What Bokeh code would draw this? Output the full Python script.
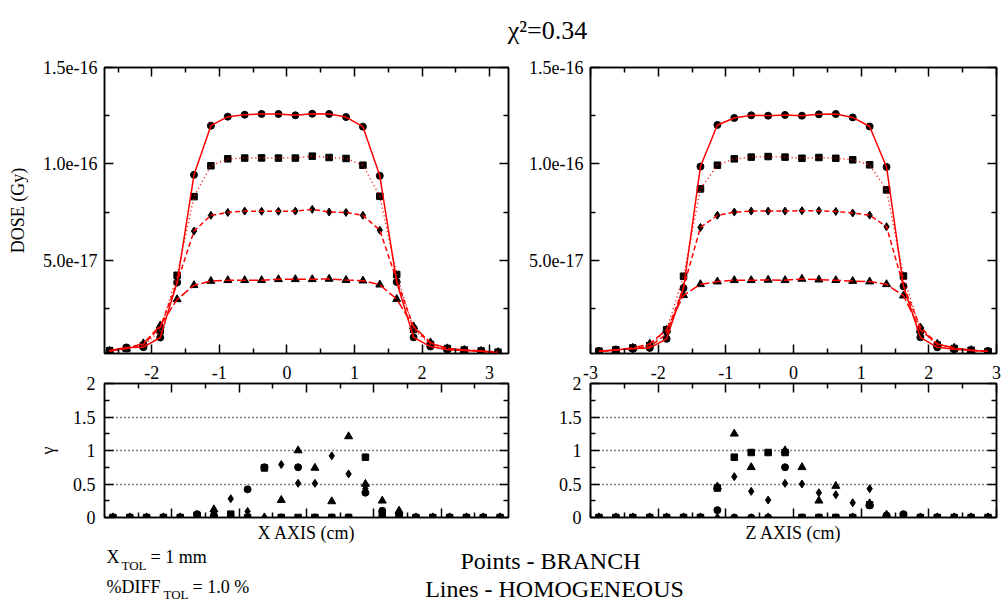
from bokeh.plotting import figure
from bokeh.models import (LinearAxis, FixedTicker, CustomJSTickFormatter, Range1d,
                          Label, ColumnDataSource, Grid)
from bokeh.layouts import column, row
from bokeh.embed import file_html
from bokeh.resources import INLINE

FONT = "Liberation Serif"

TITLE = "χ²=0.34"

# positions (cm)
X_CM = [-2.625, -2.375, -2.125, -1.875, -1.625, -1.375, -1.125, -0.875, -0.625, -0.375, -0.125, 0.125,
        0.375, 0.625, 0.875, 1.125, 1.375, 1.625, 1.875, 2.125, 2.375, 2.625, 2.875, 3.125]
Z_CM = [-2.875, -2.625, -2.375, -2.125, -1.875, -1.625, -1.375, -1.125, -0.875, -0.625, -0.375, -0.125,
        0.125, 0.375, 0.625, 0.875, 1.125, 1.375, 1.625, 1.875, 2.125, 2.375, 2.625, 2.875]

DOSE_UNIT = 1e-17  # values below are in units of 1e-17 Gy

# X profiles
CIRC_X = [0.31, 0.47, 0.49, 0.99, 3.85, 9.43, 11.98, 12.45, 12.55, 12.59, 12.59, 12.52, 12.6, 12.59,
          12.43, 11.93, 9.38, 3.87, 1.0, 0.52, 0.36, 0.31, 0.28, 0.17]
SQ_X = [0.31, 0.42, 0.57, 1.35, 4.22, 8.3, 9.9, 10.26, 10.3, 10.31, 10.3, 10.3, 10.4, 10.33, 10.28,
        9.93, 8.32, 4.26, 1.41, 0.63, 0.42, 0.34, 0.29, 0.23]
DIA_X = [0.29, 0.42, 0.63, 1.53, 3.85, 6.51, 7.33, 7.48, 7.55, 7.54, 7.54, 7.55, 7.64, 7.5, 7.48,
         7.33, 6.56, 3.96, 1.53, 0.68, 0.42, 0.34, 0.29, 0.23]
TRI_X = [0.29, 0.42, 0.68, 1.61, 2.97, 3.7, 3.92, 3.96, 3.96, 3.96, 4.01, 4.01, 4.01, 4.03, 3.97,
         3.94, 3.73, 2.98, 1.56, 0.73, 0.42, 0.34, 0.29, 0.23]

# Z profiles
CIRC_Z = [0.28, 0.35, 0.4, 0.45, 0.92, 3.55, 9.86, 12.02, 12.38, 12.52, 12.5, 12.54, 12.5, 12.57,
          12.59, 12.41, 11.94, 9.84, 3.65, 1.0, 0.48, 0.38, 0.31, 0.28]
SQ_Z = [0.28, 0.35, 0.45, 0.57, 1.39, 4.17, 8.7, 9.93, 10.26, 10.35, 10.38, 10.35, 10.29, 10.33,
        10.29, 10.21, 9.95, 8.65, 4.18, 1.35, 0.6, 0.42, 0.33, 0.27]
DIA_Z = [0.26, 0.33, 0.42, 0.52, 1.18, 3.61, 6.7, 7.33, 7.5, 7.55, 7.55, 7.55, 7.57, 7.57, 7.53,
         7.45, 7.34, 6.74, 3.66, 1.53, 0.65, 0.42, 0.33, 0.26]
TRI_Z = [0.26, 0.33, 0.45, 0.66, 1.39, 3.18, 3.75, 3.89, 3.96, 3.96, 3.98, 3.96, 4.03, 3.99, 3.96,
         3.92, 3.89, 3.75, 3.16, 1.39, 0.66, 0.45, 0.33, 0.26]

# gamma index, X
G_CIRC_X = [0, 0, 0, 0, 0, 0.05, 0.03, 0, 0.42, 0.75, 0, 0.75, 0, 0, 0, 0.37, 0.1, 0.05, 0, 0, 0, 0, 0, 0]
G_SQ_X = [0, 0, 0, 0, 0, 0.03, 0, 0.05, 0, 0.74, 0, 0, 0, 0, 0, 0.9, 0.05, 0, 0, 0, 0, 0, 0, 0]
G_DIA_X = [0, 0, 0, 0, 0, 0, 0.08, 0.28, 0.09, 0, 0.79, 0.51, 0.51, 0.92, 0.65, 0.43, 0.07, 0.08, 0, 0, 0, 0, 0, 0]
G_TRI_X = [0, 0, 0, 0, 0, 0, 0.12, 0, 0, 0, 0.26, 1.0, 0.74, 0.24, 1.21, 0.5, 0.25, 0.1, 0, 0, 0, 0, 0, 0]

# gamma index, Z
G_CIRC_Z = [0, 0, 0, 0, 0, 0, 0, 0.11, 0, 0, 0, 0.75, 0, 0, 0, 0, 0.18, 0.03, 0.05, 0, 0, 0, 0, 0]
G_SQ_Z = [0, 0, 0, 0, 0, 0, 0, 0.44, 0.9, 0.97, 0.97, 0.97, 0, 0, 0, 0, 0.19, 0, 0.03, 0, 0, 0, 0, 0]
G_DIA_Z = [0, 0, 0, 0, 0, 0, 0, 0, 0.61, 0.39, 0.26, 0.51, 0.5, 0.37, 0.34, 0.22, 0.43, 0, 0, 0, 0, 0, 0, 0]
G_TRI_Z = [0, 0, 0, 0, 0, 0, 0, 0.46, 1.25, 0.75, 0, 1.0, 0.75, 0.25, 0.47, 0, 0.21, 0.04, 0, 0, 0, 0, 0, 0]

# ticks
X_TICKS = [-2, -1, 0, 1, 2, 3]
X_MINOR = [-2.5, -1.5, -0.5, 0.5, 1.5, 2.5]
Z_TICKS = [-3, -2, -1, 0, 1, 2, 3]
Z_MINOR = [-2.5, -1.5, -0.5, 0.5, 1.5, 2.5]
GX_TICKS = [-1.75, -0.75, 0.25, 1.25, 2.25]
GX_MINOR = [-2.25, -1.25, -0.25, 0.75, 1.75, 2.75]
DOSE_TICKS = [5e-17, 1e-16, 1.5e-16]
DOSE_MINOR = [2.5e-17, 7.5e-17, 1.25e-16]
GAMMA_TICKS = [0, 0.5, 1, 1.5, 2]
GAMMA_MINOR = [0.25, 0.75, 1.25, 1.75]
GAMMA_GRID = [0.5, 1, 1.5]

X_RANGE = (-2.7, 3.28)
Z_RANGE = (-3.0, 3.0)
GX_RANGE = (-2.75, 3.25)
DOSE_RANGE = (1.6e-18, 1.5e-16)
GAMMA_RANGE = (0, 2)

PLAIN = "return String(tick)"
EXPO = "return tick.toExponential(1)"


def make_axis(major, minor, fmt=None, standoff=7, ticks=True, line=True, **kw):
    ax = LinearAxis(ticker=FixedTicker(ticks=major, minor_ticks=minor), **kw)
    if fmt is None:
        ax.formatter = CustomJSTickFormatter(code="return ''")
        ax.major_label_text_font_size = "1px"
        ax.major_label_standoff = 0
    else:
        ax.formatter = CustomJSTickFormatter(code=fmt)
        ax.major_label_text_font_size = "18px"
        ax.major_label_standoff = standoff
    ax.major_label_text_font = FONT
    ax.major_label_text_color = "black"
    ax.axis_line_color = "black" if line else None
    ax.axis_line_width = 1.5
    ax.major_tick_out = 0
    ax.minor_tick_out = 0
    if ticks:
        ax.major_tick_in = 9
        ax.minor_tick_in = 5
        ax.major_tick_line_width = 1.5
        ax.minor_tick_line_width = 1.5
        ax.major_tick_line_color = "black"
        ax.minor_tick_line_color = "black"
    else:
        ax.major_tick_in = 0
        ax.minor_tick_in = 0
        ax.major_tick_line_color = None
        ax.minor_tick_line_color = None
    ax.axis_label_text_font = FONT
    ax.axis_label_text_font_size = "18px"
    ax.axis_label_text_font_style = "normal"
    ax.axis_label_text_color = "black"
    return ax


def dose_fig(width, left, right, xr, xmaj, xmin, xs, circ, sq, dia, tri, ylabel=None):
    p = figure(width=width, height=300, x_range=Range1d(*xr), y_range=Range1d(*DOSE_RANGE),
               x_axis_type=None, y_axis_type=None, toolbar_location=None, output_backend="svg",
               min_border_left=left, min_border_right=right, min_border_top=12, min_border_bottom=2)
    p.outline_line_color = "black"
    p.outline_line_width = 1.5
    p.background_fill_color = "white"
    p.border_fill_color = "white"
    p.add_layout(make_axis(xmaj, xmin), "below")
    p.add_layout(make_axis(xmaj, xmin), "above")
    yl = make_axis(DOSE_TICKS, DOSE_MINOR, fmt=EXPO, standoff=7)
    if ylabel:
        yl.axis_label = ylabel
        yl.axis_label_standoff = 12
    p.add_layout(yl, "left")
    p.add_layout(make_axis(DOSE_TICKS, DOSE_MINOR), "right")

    src = ColumnDataSource(dict(
        x=xs,
        c=[v * DOSE_UNIT for v in circ], s=[v * DOSE_UNIT for v in sq],
        d=[v * DOSE_UNIT for v in dia], t=[v * DOSE_UNIT for v in tri]))
    p.scatter("x", "c", source=src, marker="circle", size=7, color="black")
    p.scatter("x", "s", source=src, marker="square", size=6.5, color="black")
    p.scatter("x", "d", source=src, marker="diamond", size=8, color="black")
    p.scatter("x", "t", source=src, marker="triangle", size=8, color="black")
    p.line("x", "c", source=src, line_color="red", line_width=1.5)
    p.line("x", "s", source=src, line_color="red", line_width=1.5, line_dash="1 3")
    p.line("x", "d", source=src, line_color="red", line_width=1.5, line_dash="5 3")
    p.line("x", "t", source=src, line_color="red", line_width=1.5, line_dash="9 3")
    return p


def gamma_fig(width, left, right, xr, gmaj, gmin, label_range, lmaj, xs, gc, gs, gd, gt,
              xlabel, ylabel=None):
    p = figure(width=width, height=192, x_range=Range1d(*xr), y_range=Range1d(*GAMMA_RANGE),
               x_axis_type=None, y_axis_type=None, toolbar_location=None, output_backend="svg",
               min_border_left=left, min_border_right=right, min_border_top=28, min_border_bottom=30)
    p.outline_line_color = "black"
    p.outline_line_width = 1.5
    p.extra_x_ranges = {"dose": Range1d(*label_range)}
    p.add_layout(make_axis(gmaj, gmin), "above")
    lab = make_axis(lmaj, [], fmt=PLAIN, standoff=5, ticks=False, line=False, x_range_name="dose")
    p.add_layout(lab, "above")
    bx = make_axis(gmaj, gmin)
    bx.axis_label = xlabel
    bx.axis_label_standoff = 5
    p.add_layout(bx, "below")
    yl = make_axis(GAMMA_TICKS, GAMMA_MINOR, fmt=PLAIN, standoff=9)
    if ylabel:
        yl.axis_label = ylabel
        yl.axis_label_standoff = 12
    p.add_layout(yl, "left")
    p.add_layout(make_axis(GAMMA_TICKS, GAMMA_MINOR), "right")
    p.add_layout(Grid(dimension=1, ticker=FixedTicker(ticks=GAMMA_GRID), grid_line_color="black",
                      grid_line_dash="1 3", grid_line_width=1.3))
    src = ColumnDataSource(dict(x=xs, c=gc, s=gs, d=gd, t=gt))
    p.scatter("x", "c", source=src, marker="circle", size=7, color="black")
    p.scatter("x", "s", source=src, marker="square", size=6.5, color="black")
    p.scatter("x", "d", source=src, marker="diamond", size=8, color="black")
    p.scatter("x", "t", source=src, marker="triangle", size=8, color="black")
    return p


def strip(height):
    p = figure(width=1004, height=height, x_range=Range1d(0, 1004), y_range=Range1d(0, height),
               x_axis_type=None, y_axis_type=None, toolbar_location=None, output_backend="svg",
               min_border=0)
    p.outline_line_color = None
    return p


def lab(p, x, y, text, size, align="left"):
    p.add_layout(Label(x=x, y=y, text=text, text_font=FONT, text_font_size=size,
                       text_align=align, text_baseline="middle", text_color="black"))


title_fig = strip(55)
lab(title_fig, 547, 25.5, TITLE, "26px", "center")

tl = dose_fig(512, 104, 4, X_RANGE, X_TICKS, X_MINOR, X_CM, CIRC_X, SQ_X, DIA_X, TRI_X, "DOSE (Gy)")
tr = dose_fig(492, 78, 8, Z_RANGE, Z_TICKS, Z_MINOR, Z_CM, CIRC_Z, SQ_Z, DIA_Z, TRI_Z)
bl = gamma_fig(512, 104, 4, GX_RANGE, GX_TICKS, GX_MINOR, X_RANGE, X_TICKS, X_CM,
               G_CIRC_X, G_SQ_X, G_DIA_X, G_TRI_X, "X AXIS (cm)", "γ")
br = gamma_fig(492, 78, 8, Z_RANGE, Z_TICKS, Z_MINOR, Z_RANGE, Z_TICKS, Z_CM,
               G_CIRC_Z, G_SQ_Z, G_DIA_Z, G_TRI_Z, "Z AXIS (cm)")

bottom = strip(58)
lab(bottom, 106, 48.3, "X", "18px")
lab(bottom, 121, 40, "TOL", "13px")
lab(bottom, 150, 48.3, "= 1 mm", "18px")
lab(bottom, 106, 18.7, "%DIFF", "18px")
lab(bottom, 163, 11, "TOL", "13px")
lab(bottom, 192, 18.7, "= 1.0 %", "18px")
lab(bottom, 550, 44.5, "Points - BRANCH", "24px", "center")
lab(bottom, 554, 16.5, "Lines - HOMOGENEOUS", "24px", "center")

layout = column(title_fig, row(tl, tr), row(bl, br), bottom)

open("out.html", "w").write(file_html(layout, INLINE))
